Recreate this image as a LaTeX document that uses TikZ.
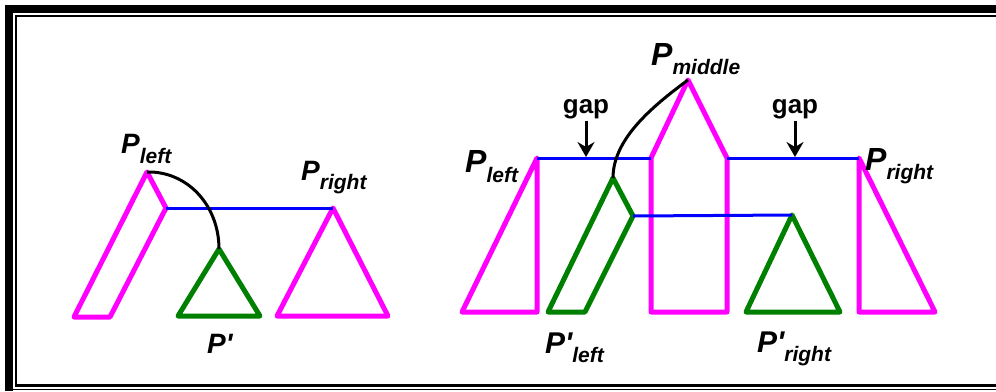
\documentclass[tikz,border=0pt]{standalone}
\usepackage{fontspec}
\newfontfamily\labfont{Liberation Sans}
\usetikzlibrary{arrows.meta}
\definecolor{mag}{RGB}{255,0,255}
\definecolor{grn}{RGB}{0,128,0}
\definecolor{blu}{RGB}{0,0,255}
\newcommand{\PLab}[4]{{\labfont\bfseries\itshape\fontsize{#1}{#1}\selectfont P#2\fontsize{21}{21}\selectfont\raisebox{-#4}{#3}}}
\begin{document}
\begin{tikzpicture}[x={(1pt,0pt)},y={(0pt,-1pt)},
  mshape/.style={draw=mag,line width=5pt,line join=round,line cap=round},
  gshape/.style={draw=grn,line width=5pt,line join=round,line cap=round},
  bline/.style={draw=blu,line width=3pt},
  kcurve/.style={draw=black,line width=3pt},
  arr/.style={draw=black,line width=3pt,-{Stealth[length=15pt,width=17pt,inset=5pt]}},
  lab/.style={anchor=base west,inner sep=0pt},
  gaplab/.style={anchor=base,inner sep=0pt,font=\labfont\bfseries\fontsize{26}{26}\selectfont},
  frameline/.style={draw=black}]
\useasboundingbox (0,0) rectangle (996,391);
% frame
\draw[frameline,line width=8pt] (9,391) -- (9,9) -- (996,9);
\draw[frameline,line width=1.5pt] (15.75,385) -- (15.75,15.75) -- (996,15.75);
\draw[frameline,line width=2.5pt] (15,385.5) -- (996,385.5);
\draw[frameline,line width=1.5pt] (13,389.5) -- (996,389.5);
% ---------- left diagram ----------
\coordinate (a1) at (147,172);
\coordinate (a2) at (166,208);
\coordinate (a3) at (110,317);
\coordinate (a4) at (74,317);
\coordinate (rt1) at (333,208);
\coordinate (rt2) at (277,316);
\coordinate (rt3) at (388,316);
\coordinate (gt1) at (219,249);
\coordinate (gt2) at (178,316);
\coordinate (gt3) at (260,316);
\draw[mshape] (a1) -- (a2) -- (a3) -- (a4) -- cycle;
\draw[mshape] (rt1) -- (rt2) -- (rt3) -- cycle;
\draw[gshape] (gt1) -- (gt2) -- (gt3) -- cycle;
\draw[bline] (a2) -- (rt1);
\draw[kcurve] (a1) .. controls (187,171) and (219,205) .. (gt1);
\node[lab] (lpl) at (121,153) {\PLab{28}{}{left}{10pt}};
\node[lab] (lpr) at (301,180) {\PLab{28}{}{right}{9pt}};
\node[lab] (lpp) at (207,353) {\PLab{28}{'}{}{0pt}};
% ---------- right diagram ----------
\coordinate (b1) at (537,158);
\coordinate (b2) at (462,312);
\coordinate (b3) at (537,312);
\coordinate (h1) at (651,312);
\coordinate (h2) at (651,158);
\coordinate (h3) at (688,80);
\coordinate (h4) at (727,158);
\coordinate (h5) at (727,312);
\coordinate (rr1) at (859,158);
\coordinate (rr2) at (859,312);
\coordinate (rr3) at (935,312);
\coordinate (gp1) at (613,178);
\coordinate (gp2) at (633,216);
\coordinate (gp3) at (585,312);
\coordinate (gp4) at (548,312);
\coordinate (gr1) at (792,215);
\coordinate (gr2) at (746,312);
\coordinate (gr3) at (840,312);
\draw[mshape] (b1) -- (b2) -- (b3) -- cycle;
\draw[mshape] (h1) -- (h2) -- (h3) -- (h4) -- (h5) -- cycle;
\draw[mshape] (rr1) -- (rr2) -- (rr3) -- cycle;
\draw[gshape] (gp1) -- (gp2) -- (gp3) -- (gp4) -- cycle;
\draw[gshape] (gr1) -- (gr2) -- (gr3) -- cycle;
\draw[bline] (b1) -- (h2);
\draw[bline] (h4) -- (rr1);
\draw[bline] (gp2) -- (gr1);
\draw[kcurve] (gp1) .. controls (613,140) and (650,108) .. (h3);
\node[lab] (rpl) at (465,172) {\PLab{32}{}{left}{10pt}};
\node[lab] (rpm) at (651,65) {\PLab{32}{}{middle}{9pt}};
\node[lab] (rpr) at (865,170) {\PLab{32}{}{right}{9pt}};
\node[lab] (rppl) at (545,353) {\PLab{30}{'}{left}{9pt}};
\node[lab] (rppr) at (757,352) {\PLab{30}{'}{right}{9pt}};
\node[gaplab] (gap1) at (586,113) {gap};
\node[gaplab] (gap2) at (795,113) {gap};
\coordinate (t1) at (586,157);
\coordinate (t2) at (795,157);
\draw[arr] ([yshift=-2pt]gap1.south) -- (t1);
\draw[arr] ([yshift=-2pt]gap2.south) -- (t2);
\end{tikzpicture}
\end{document}
